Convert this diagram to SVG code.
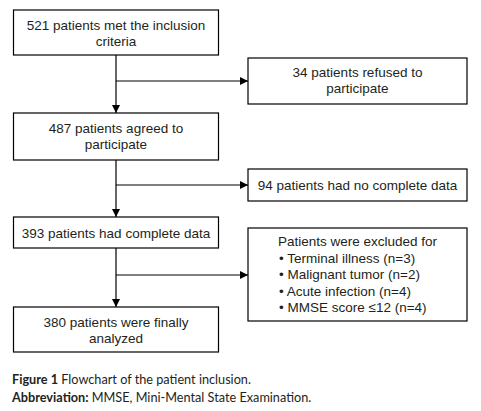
<svg xmlns="http://www.w3.org/2000/svg" width="481" height="411" viewBox="0 0 481 411">
<defs>
<marker id="ah" viewBox="0 0 10 10" refX="10" refY="5" markerWidth="8" markerHeight="8" markerUnits="userSpaceOnUse" orient="auto">
<path d="M0,0 L10,5 L0,10 Z" fill="#000"/>
</marker>
<style>
.box{fill:#fff;stroke:#000;stroke-width:1.2}
.t{font-family:"Liberation Sans",Arial,sans-serif;font-size:13.5px;fill:#231f20}
.c{text-anchor:middle}
.ln{fill:none;stroke:#000;stroke-width:1.2}
.cap{font-family:"Lato","Open Sans",sans-serif;font-size:12.7px;fill:#231f20}
</style>
</defs>
<rect width="481" height="411" fill="#fff"/>
<g id="connectors">
<line class="ln" x1="116" y1="55" x2="116" y2="113" marker-end="url(#ah)"/>
<line class="ln" x1="116" y1="81" x2="248" y2="81" marker-end="url(#ah)"/>
<line class="ln" x1="116" y1="160" x2="116" y2="217" marker-end="url(#ah)"/>
<line class="ln" x1="116" y1="185" x2="248" y2="185" marker-end="url(#ah)"/>
<line class="ln" x1="116" y1="248" x2="116" y2="307" marker-end="url(#ah)"/>
<line class="ln" x1="116" y1="275" x2="248" y2="275" marker-end="url(#ah)"/>
</g>
<g id="n1">
<rect class="box" x="13.5" y="10" width="205" height="45"/>
<text class="t c" x="116" y="30">521 patients met the inclusion</text>
<text class="t c" x="116" y="46">criteria</text>
</g>
<g id="n2">
<rect class="box" x="248" y="58" width="219" height="46"/>
<text class="t c" x="357.5" y="77">34 patients refused to</text>
<text class="t c" x="357.5" y="93">participate</text>
</g>
<g id="n3">
<rect class="box" x="13.5" y="113" width="205" height="47"/>
<text class="t c" x="116" y="133">487 patients agreed to</text>
<text class="t c" x="116" y="149">participate</text>
</g>
<g id="n4">
<rect class="box" x="248" y="169" width="219" height="32"/>
<text class="t c" x="357.5" y="189.5">94 patients had no complete data</text>
</g>
<g id="n5">
<rect class="box" x="13.5" y="217" width="205" height="31"/>
<text class="t c" x="116" y="237.5">393 patients had complete data</text>
</g>
<g id="n6">
<rect class="box" x="248" y="228" width="219" height="93"/>
<text class="t" x="278" y="246">Patients were excluded for</text>
<text class="t" x="279" y="262.5">• Terminal illness (n=3)</text>
<text class="t" x="279" y="279">• Malignant tumor (n=2)</text>
<text class="t" x="279" y="295.5">• Acute infection (n=4)</text>
<text class="t" x="279" y="312">• MMSE score ≤12 (n=4)</text>
</g>
<g id="n7">
<rect class="box" x="13.5" y="307" width="205" height="45"/>
<text class="t c" x="116" y="327">380 patients were finally</text>
<text class="t c" x="116" y="343">analyzed</text>
</g>
<g id="caption">
<text class="cap" x="12" y="384"><tspan font-weight="bold">Figure 1</tspan> Flowchart of the patient inclusion.</text>
<text class="cap" x="12" y="402"><tspan font-weight="bold">Abbreviation:</tspan> MMSE, Mini-Mental State Examination.</text>
</g>
</svg>
